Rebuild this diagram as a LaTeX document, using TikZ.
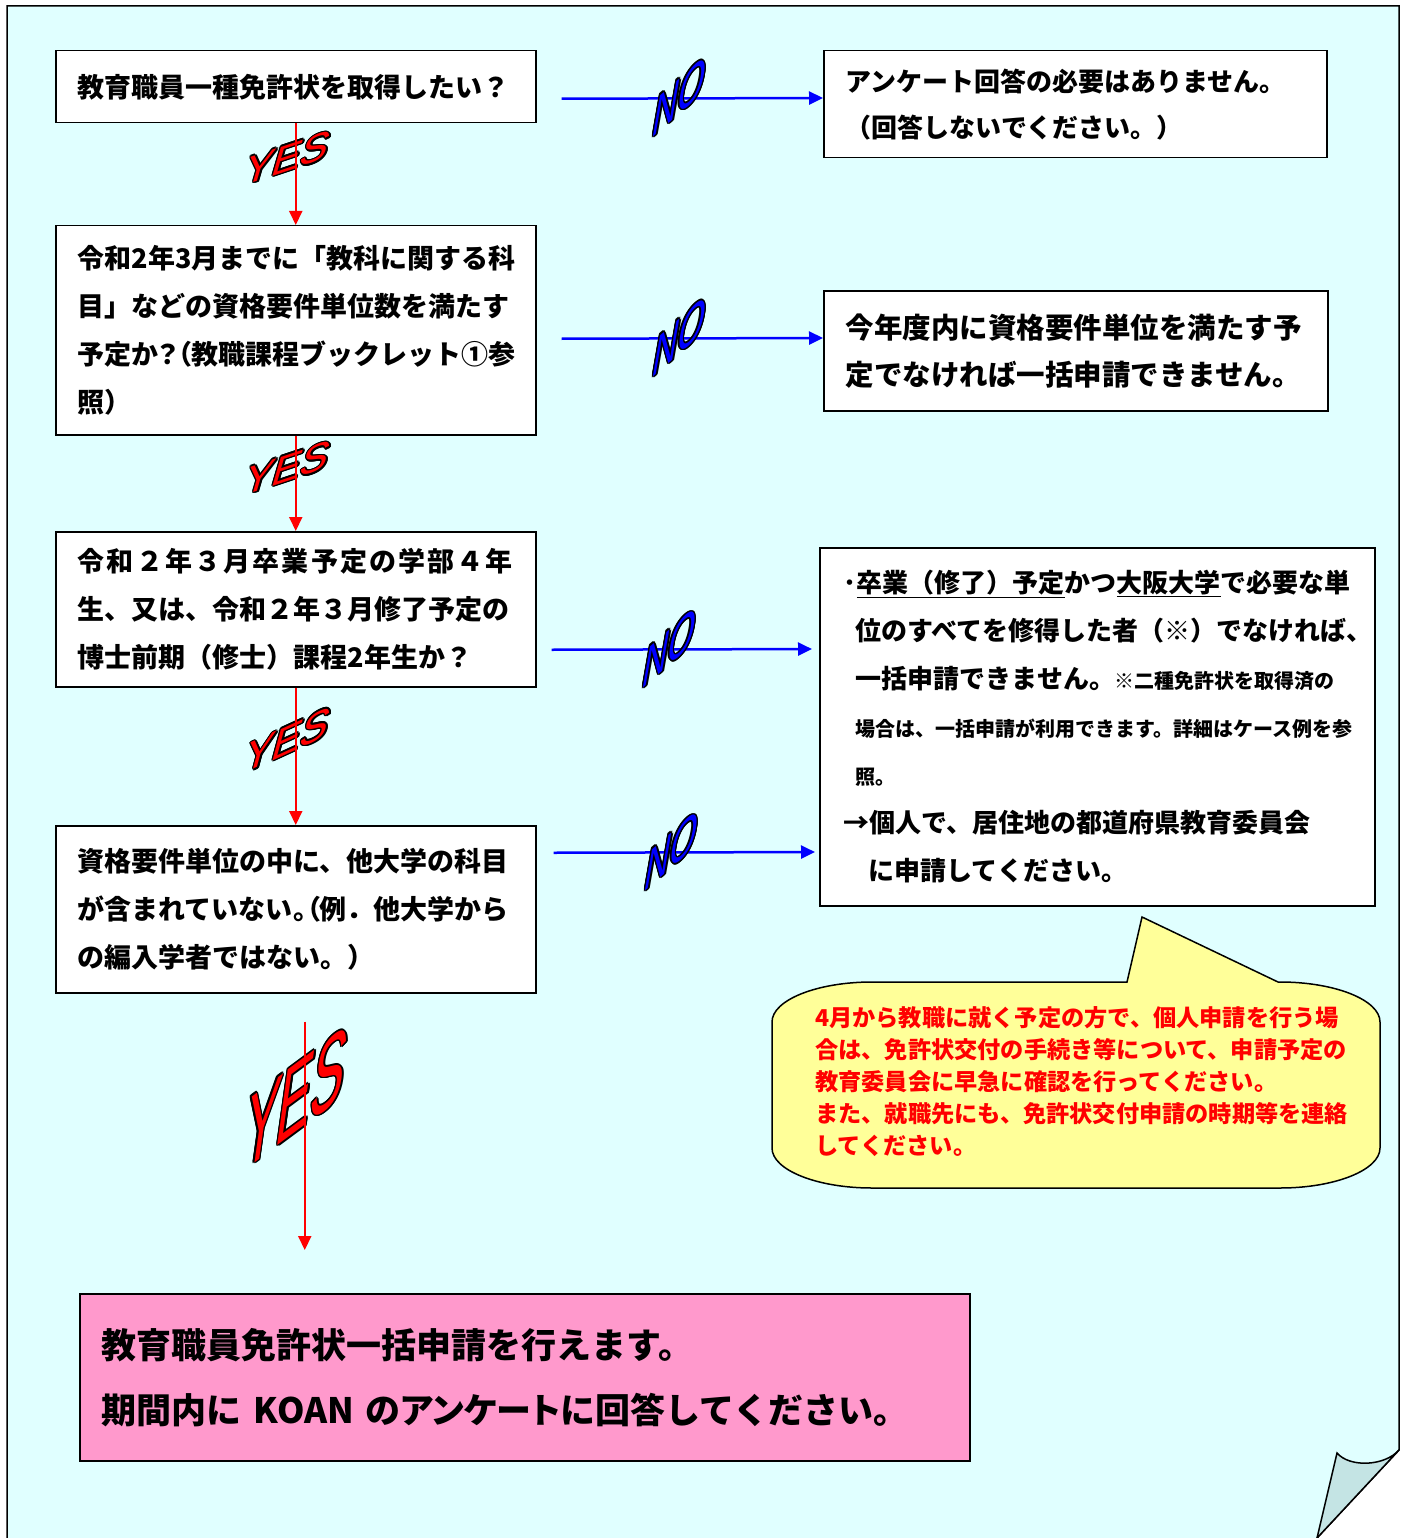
\documentclass[tikz,border=0pt]{standalone}
\usepackage{fontspec}
\setmainfont{Noto Sans CJK JP}
\newfontfamily\artfont{Liberation Sans}
\usetikzlibrary{arrows.meta,calc}

\definecolor{pagecyan}{RGB}{224,255,255}
\definecolor{curlcyan}{RGB}{196,228,228}
\definecolor{notey}{RGB}{255,255,153}
\definecolor{goalpink}{RGB}{255,153,204}
% proportional punctuation
\newcommand\narrowp[1]{{\addfontfeature{CharacterWidth=AlternateProportional}#1}}

\begin{document}
\begin{tikzpicture}[x=1pt, y=-1pt, >={Triangle[length=14pt,width=13pt]},
  qbox/.style={draw, line width=1.5pt, fill=white, anchor=north west, align=left,
    inner xsep=22pt, inner ysep=0pt, font=\bfseries\fontsize{27}{48}\selectfont},
  yesarr/.style={->, red, line width=2pt},
  noarr/.style={->, blue, line width=2.5pt},
  art/.style={inner sep=0pt, font=\artfont\fontsize{#1}{#1}\selectfont}]
  \useasboundingbox (0,0) rectangle (1408,1538);
  \fill[white] (0,0) rectangle (1408,1538);

  % page with the turned-up corner
  \fill[pagecyan] (7,6) -- (1399,6) -- (1399,1450) -- (1317,1538) -- (7,1538) -- cycle;
  \draw[line width=1.5pt] (7,1538) -- (7,6) -- (1399,6) -- (1399,1450) -- (1317,1538);
  \filldraw[fill=curlcyan, line width=1.5pt] (1399,1450) .. controls (1385,1466) and (1350,1468) .. (1337,1453) -- (1317,1538) -- cycle;

  % questions
  \node[qbox, text width=436pt, minimum height=72pt] (q1) at (55,50) {教育職員一種免許状を取得したい？};
  \node[qbox, text width=436pt, minimum height=209pt] (q2) at (55,225)
    {令和2年3月までに「教科に関する科\\目」などの資格要件単位数を満たす\\予定か\narrowp{？（}教職課程ブックレット①参\\照）};
  \node[qbox, text width=436pt, minimum height=155pt] (q3) at (55,531)
    {{\addfontfeature{LetterSpace=8}令和２年３月卒業予定の学部４年}\\生、又は、令和２年３月修了予定の\\博士前期（修士）課程2年生か？};
  \node[qbox, text width=436pt, minimum height=167pt] (q4) at (55,825)
    {資格要件単位の中に、他大学の科目\\が含まれていない\narrowp{。（}例．他大学から\\の編入学者ではない。）};

  % answers
  \node[qbox, text width=459pt, minimum height=107pt, font=\bfseries\fontsize{26}{46}\selectfont] (a1) at (823,50)
    {アンケート回答の必要はありません。\\（回答しないでください。）};
  \node[qbox, text width=460pt, minimum height=120pt, font=\bfseries\fontsize{28.5}{47}\selectfont] (a2) at (823,290)
    {今年度内に資格要件単位を満たす予\\定でなければ一括申請できません。};
  \node[qbox, text width=507pt, minimum height=358pt, inner xsep=24pt, font=\bfseries\fontsize{26}{48}\selectfont] (a3) at (819,547)
    {･\underline{卒業（修了）予定}かつ\underline{大阪大学}で必要な単\\
     \hspace*{12pt}位のすべてを修得した者（※）でなければ、\\
     \hspace*{12pt}一括申請できません。{\fontsize{20}{48}\selectfont ※二種免許状を取得済の}\\
     \hspace*{12pt}{\fontsize{20}{48}\selectfont 場合は、一括申請が利用できます。詳細はケース例を参}\\
     \hspace*{12pt}{\fontsize{20}{48}\selectfont 照。}\\
     →個人で、居住地の都道府県教育委員会\\
     \hspace*{25pt}に申請してください。};

  % final box
  \node[qbox, text width=846pt, minimum height=167pt, fill=goalpink, font=\bfseries\fontsize{35}{65}\selectfont] (fin) at (79,1293)
    {教育職員免許状一括申請を行えます。\\期間内に KOAN の\narrowp{アンケート}に回答してください。};

  % speech bubble
  \filldraw[fill=notey, line width=1.5pt] (872,982) -- (1127,982) -- (1142,917) -- (1278,982) -- (1280,982)
    .. controls (1335,982) and (1380,1000) .. (1380,1022) -- (1380,1148)
    .. controls (1380,1170) and (1335,1188) .. (1280,1188) -- (872,1188)
    .. controls (817,1188) and (772,1170) .. (772,1148) -- (772,1022)
    .. controls (772,1000) and (817,982) .. (872,982) -- cycle;
  \node[text=red, align=left, text width=540pt, inner sep=0pt, anchor=west,
    font=\bfseries\fontsize{23.2}{32}\selectfont] (memo) at (815,1082)
    {4月から教職に就く予定の方で、個人申請を行う場\\合は、免許状交付の手続き等について、申請予定の\\教育委員会に早急に確認を行ってください。\\また、就職先にも、免許状交付申請の時期等を連絡\\してください。};

  % NO arrows
  \draw[noarr] ([shift={(25,12)}]q1.east) -- (a1.west |- 0,98);
  \draw[noarr] ([shift={(25,8.5)}]q2.east) -- (a2.west |- 0,338);
  \draw[noarr, shorten >=7pt] ([shift={(15,40.5)}]q3.east) -- (a3.west |- 0,649);
  \draw[noarr, shorten >=4pt] ([shift={(17,-56.5)}]q4.east) -- (a3.west |- 0,852);

  % YES / NO word art
  \foreach \nm/\px/\py/\col/\w/\b/\d/\s/\txt in {
      no1/680/96/blue/1.15/1.0/2.0/30/NO, no2/680/336/blue/1.15/1.0/2.0/30/NO,
      no3/670/647/blue/1.15/1.0/2.0/30/NO, no4/672/850/blue/1.15/1.0/2.0/30/NO,
      yes1/288/158/red/1.2/0.4/1.2/35/YES, yes2/288/468/red/1.2/0.4/1.2/35/YES,
      yes3/288/740/red/1.2/0.55/1.3/35/YES, yes4/296/1098/red/1.15/0.85/2.5/44/YES} {
    \foreach \a in {0,30,...,330}
      \node[art=\s, cm={\w,\b,0.35,\d,(0,0)}] at ($(\px,\py)+(\a:1.5)$) {\txt};
    \node[art=\s, text=\col, cm={\w,\b,0.35,\d,(0,0)}] (\nm) at (\px,\py) {\txt};
  }

  % YES arrows
  \draw[yesarr] (q1) -- (q2);
  \draw[yesarr] (q2) -- (q3);
  \draw[yesarr] (q3) -- (q4);
  \coordinate (y4s) at ([shift={(9,28)}]q4.south);
  \draw[yesarr, shorten >=43pt] (y4s) -- (y4s |- fin.north);
\end{tikzpicture}
\end{document}
